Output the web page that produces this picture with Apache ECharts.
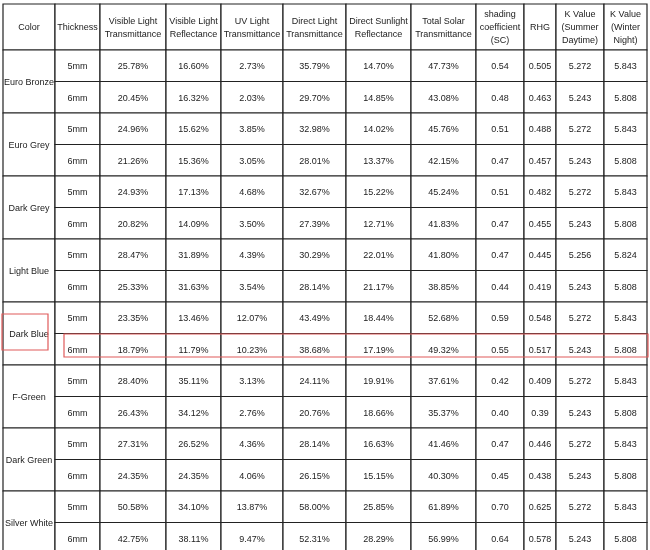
<!DOCTYPE html><html><head><meta charset="utf-8"><script src="https://cdn.jsdelivr.net/npm/echarts@6/dist/echarts.min.js"></script>
<style>html,body{margin:0;background:#fff}#c{width:650px;height:550px}</style></head><body><div id="c"></div><script>
const headers=["Color","Thickness","Visible Light\nTransmittance","Visible Light\nReflectance","UV Light\nTransmittance","Direct Light\nTransmittance","Direct Sunlight\nReflectance","Total Solar\nTransmittance","shading\ncoefficient\n(SC)","RHG","K Value\n(Summer\nDaytime)","K Value\n(Winter\nNight)"];
const colors=["Euro Bronze","Euro Grey","Dark Grey","Light Blue","Dark Blue","F-Green","Dark Green","Silver White"];
const thickness=["5mm","6mm"];
const visT=["25.78%","20.45%","24.96%","21.26%","24.93%","20.82%","28.47%","25.33%","23.35%","18.79%","28.40%","26.43%","27.31%","24.35%","50.58%","42.75%"];
const visR=["16.60%","16.32%","15.62%","15.36%","17.13%","14.09%","31.89%","31.63%","13.46%","11.79%","35.11%","34.12%","26.52%","24.35%","34.10%","38.11%"];
const uvT=["2.73%","2.03%","3.85%","3.05%","4.68%","3.50%","4.39%","3.54%","12.07%","10.23%","3.13%","2.76%","4.36%","4.06%","13.87%","9.47%"];
const dirT=["35.79%","29.70%","32.98%","28.01%","32.67%","27.39%","30.29%","28.14%","43.49%","38.68%","24.11%","20.76%","28.14%","26.15%","58.00%","52.31%"];
const dirR=["14.70%","14.85%","14.02%","13.37%","15.22%","12.71%","22.01%","21.17%","18.44%","17.19%","19.91%","18.66%","16.63%","15.15%","25.85%","28.29%"];
const solT=["47.73%","43.08%","45.76%","42.15%","45.24%","41.83%","41.80%","38.85%","52.68%","49.32%","37.61%","35.37%","41.46%","40.30%","61.89%","56.99%"];
const sc=["0.54","0.48","0.51","0.47","0.51","0.47","0.47","0.44","0.59","0.55","0.42","0.40","0.47","0.45","0.70","0.64"];
const rhg=["0.505","0.463","0.488","0.457","0.482","0.455","0.445","0.419","0.548","0.517","0.409","0.39","0.446","0.438","0.625","0.578"];
const kSum=["5.272","5.243","5.272","5.243","5.272","5.243","5.256","5.243","5.272","5.243","5.272","5.243","5.272","5.243","5.272","5.243"];
const kWin=["5.843","5.808","5.843","5.808","5.843","5.808","5.824","5.808","5.843","5.808","5.843","5.808","5.843","5.808","5.843","5.808"];

// layout (pixel space of the axes)
const colX=[3,55,100,166,221,283,346,411,476,524,556,604,647];
const tableTop=4, headH=46, rowH=31.5;
const rowY=i=>tableTop+headH+i*rowH;

const cells=[];
headers.forEach((h,c)=>cells.push({c0:c,c1:c+1,y0:tableTop,y1:tableTop+headH,t:h}));
colors.forEach((name,g)=>cells.push({c0:0,c1:1,y0:rowY(2*g),y1:rowY(2*g+2),t:name}));
const cols=[null,null,visT,visR,uvT,dirT,dirR,solT,sc,rhg,kSum,kWin];
for(let r=0;r<16;r++){
  cells.push({c0:1,c1:2,y0:rowY(r),y1:rowY(r+1),t:thickness[r%2]});
  for(let c=2;c<12;c++) cells.push({c0:c,c1:c+1,y0:rowY(r),y1:rowY(r+1),t:cols[c][r]});
}
const data=cells.map(d=>[colX[d.c0],d.y0,colX[d.c1],d.y1]);
const hl=[[2,314,48,350],[64,334,648,357]];

const chart=echarts.init(document.getElementById('c'));
chart.setOption({animation:false,
grid:{left:0,right:0,top:0,bottom:0},
xAxis:{type:'value',min:0,max:650,show:false},
yAxis:{type:'value',min:0,max:550,inverse:true,show:false},
series:[{type:'custom',data:data,renderItem:(p,api)=>{
  const a=api.coord([api.value(0),api.value(1)]),b=api.coord([api.value(2),api.value(3)]);
  const txt=cells[p.dataIndex].t;
  return {type:'group',children:[
    {type:'rect',shape:{x:a[0],y:a[1],width:b[0]-a[0],height:b[1]-a[1]},style:{fill:'#fff',stroke:'#222',lineWidth:1.2}},
    {type:'text',style:{x:(a[0]+b[0])/2,y:(a[1]+b[1])/2+1,text:txt,align:'center',verticalAlign:'middle',font:'9px "Liberation Sans", Arial',fill:'#222',lineHeight:13}}
  ]};
}},
{type:'custom',data:hl,renderItem:(p,api)=>{
  const a=api.coord([api.value(0),api.value(1)]),b=api.coord([api.value(2),api.value(3)]);
  return {type:'rect',shape:{x:a[0],y:a[1],width:b[0]-a[0],height:b[1]-a[1]},style:{fill:'none',stroke:'#e05a5a',lineWidth:1.2}};
}}]});
</script></body></html>
